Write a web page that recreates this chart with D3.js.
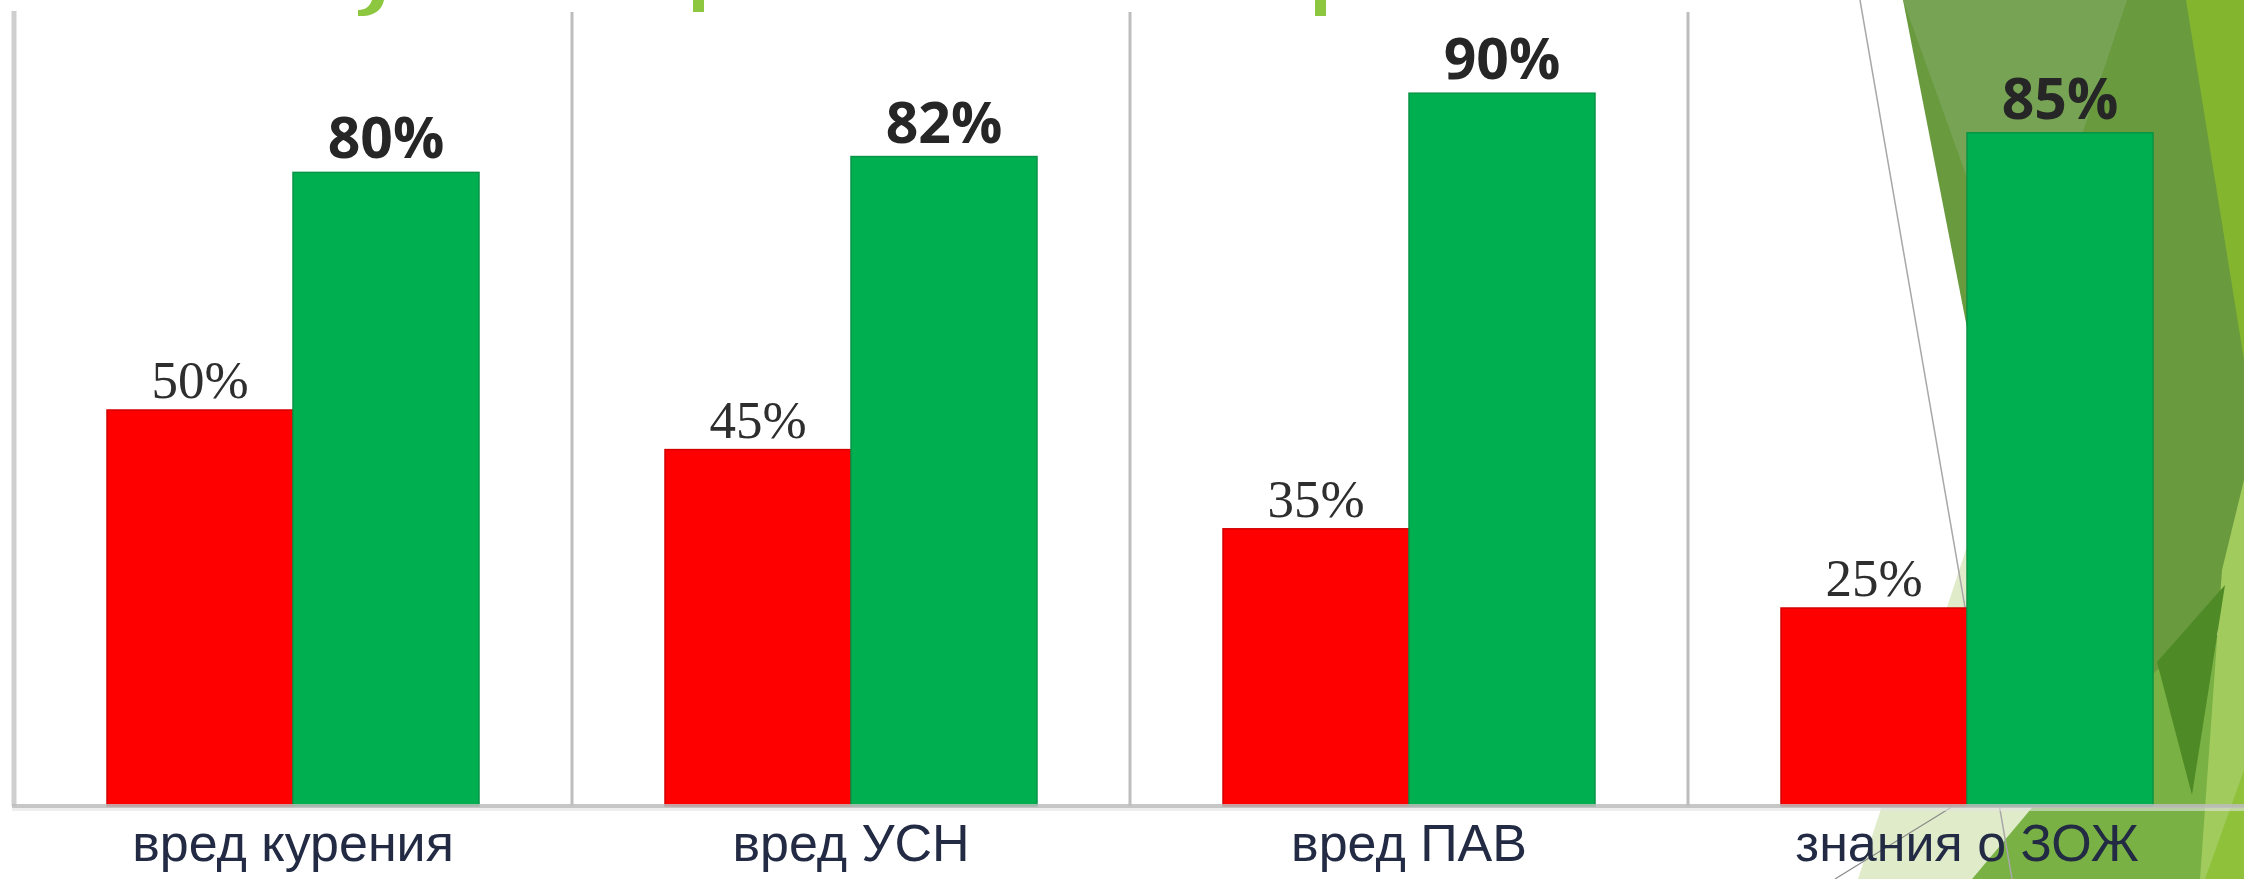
<!DOCTYPE html>
<html><head><meta charset="utf-8">
<script src="https://cdn.jsdelivr.net/npm/d3@7/dist/d3.min.js"></script>
<style>html,body{margin:0;padding:0;background:#fff;overflow:hidden}</style>
</head><body><svg id="c" width="2244" height="879"></svg>
<script>
const categories = ["вред курения", "вред УСН", "вред ПАВ", "знания о ЗОЖ"];
const seriesNames = ["before", "after"];
const valuesBefore = [50, 45, 35, 25];
const valuesAfter = [80, 82, 90, 85];
const seriesColors = ["#ff0000", "#00b050"];

const svg = d3.select("#c");
const W = 2244, H = 879;

// ---- decorative theme shapes (background) ----
const deco = svg.append("g");
const polys = [
  {c:"#e3eed0", p:[[1904,0],[2060,0],[1990,440]]},
  {c:"#e0ecc9", p:[[1992,470],[1858,879],[1972,879],[2110,715]]},
  {c:"#699a3e", p:[[1903,0],[2244,0],[2244,600],[2157,675],[2060,640],[1985,420]]},
  {c:"#77a354", p:[[1903,0],[2127,0],[2000,380],[1975,200]]},
  {c:"#84b52f", p:[[2186,0],[2244,0],[2244,360]]},
  {c:"#79b144", p:[[2110,715],[1972,879],[2244,879],[2244,620],[2157,670]]},
  {c:"#a2cb5e", p:[[2222,570],[2244,480],[2244,879],[2200,879]]},
  {c:"#4e8a25", p:[[2157,662],[2225,585],[2192,795]]},
  {c:"#8fc13a", p:[[2205,879],[2244,770],[2244,879]]}
];
polys.forEach(d => deco.append("polygon")
  .attr("points", d.p.map(q => q.join(",")).join(" "))
  .attr("fill", d.c));
deco.append("line").attr("x1",1860).attr("y1",0).attr("x2",2012).attr("y2",879)
  .attr("stroke","#a8a8a8").attr("stroke-width",1.5);
deco.append("line").attr("x1",1955).attr("y1",805).attr("x2",1835).attr("y2",879)
  .attr("stroke","#8a8a8a").attr("stroke-width",1.2);

// title fragments (cut off at top)
const tg = svg.append("g").attr("fill","#8dc63f");
tg.append("path").attr("d","M372,0 L384,0 C382,9 376,15 364,16 L358,16 L358,10 C366,10 370,6 372,0 Z");
tg.append("rect").attr("x",693).attr("y",0).attr("width",11).attr("height",12);
tg.append("rect").attr("x",1315).attr("y",0).attr("width",11).attr("height",16);

// ---- scales ----
const x0 = d3.scaleBand().domain(categories).range([14, 2246]).paddingInner(0).paddingOuter(0);
const x1 = d3.scaleBand().domain(seriesNames).range([0, x0.bandwidth()]).paddingInner(0).paddingOuter(0.5);
const y = d3.scaleLinear().domain([0, 100]).range([806, 14]);

// axis lines
svg.append("line").attr("x1", x0.range()[0]).attr("x2", x0.range()[0])
  .attr("y1", y(100) - 3).attr("y2", y(0)).attr("stroke", "#cfcfcf").attr("stroke-width", 5);
categories.slice(0, 3).forEach(c => {
  const xx = x0(c) + x0.bandwidth();
  svg.append("line").attr("x1", xx).attr("x2", xx).attr("y1", y(100) - 2).attr("y2", y(0))
    .attr("stroke", "#bdbdbd").attr("stroke-width", 3);
});

// bars
const data = categories.map((c, i) => ({c, v: [valuesBefore[i], valuesAfter[i]]}));
const grp = svg.append("g").selectAll("g").data(data).join("g")
  .attr("transform", d => `translate(${x0(d.c)},0)`);
grp.selectAll("rect").data(d => d.v.map((v, j) => ({s: seriesNames[j], v, j})))
  .join("rect")
  .attr("x", d => x1(d.s)).attr("width", x1.bandwidth())
  .attr("y", d => y(d.v)).attr("height", d => y(0) - y(d.v))
  .attr("fill", d => seriesColors[d.j])
  .attr("stroke", d => d.j === 0 ? "#d40000" : "#079446")
  .attr("stroke-width", 1.5);

// baseline
svg.append("line").attr("x1", x0.range()[0] - 2).attr("x2", W).attr("y1", y(0) + 3).attr("y2", y(0) + 3)
  .attr("stroke", "#e2e2e2").attr("stroke-opacity", 0.6).attr("stroke-width", 4);
svg.append("line").attr("x1", x0.range()[0] - 2).attr("x2", W).attr("y1", y(0)).attr("y2", y(0))
  .attr("stroke", "#bdbdbd").attr("stroke-opacity", 0.85).attr("stroke-width", 4);

// value labels
grp.selectAll("text.v").data(d => d.v.map((v, j) => ({s: seriesNames[j], v, j})))
  .join("text").attr("class", "v")
  .attr("x", d => x1(d.s) + x1.bandwidth() / 2)
  .attr("y", d => y(d.v) - (d.j === 0 ? 12 : 14))
  .attr("text-anchor", "middle")
  .attr("font-family", d => d.j === 0 ? "'Liberation Serif', 'Times New Roman', serif" : "'Open Sans', sans-serif")
  .attr("font-weight", d => d.j === 0 ? 400 : 700)
  .attr("font-size", d => d.j === 0 ? 53 : 57)
  .attr("fill", d => d.j === 0 ? "#2e2e2e" : "#262626")
  .text(d => d.v + "%");

// category labels
svg.append("g").selectAll("text").data(categories).join("text")
  .attr("x", d => x0(d) + x0.bandwidth() / 2)
  .attr("y", 861)
  .attr("text-anchor", "middle")
  .attr("font-family", "'Liberation Sans', Arial, sans-serif")
  .attr("font-size", 52)
  .attr("fill", "#222b43")
  .text(d => d);
</script></body></html>
